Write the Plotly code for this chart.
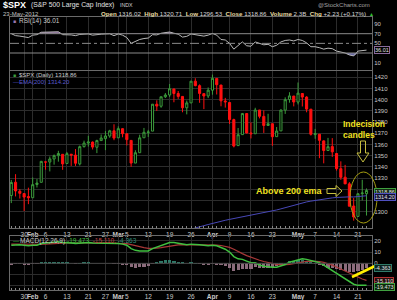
import plotly.graph_objects as go

# ---------------- data ----------------
dates = ["2012-01-25","2012-01-26","2012-01-27","2012-01-30","2012-01-31",
 "2012-02-01","2012-02-02","2012-02-03","2012-02-06","2012-02-07","2012-02-08","2012-02-09","2012-02-10",
 "2012-02-13","2012-02-14","2012-02-15","2012-02-16","2012-02-17","2012-02-21","2012-02-22","2012-02-23",
 "2012-02-24","2012-02-27","2012-02-28","2012-02-29",
 "2012-03-01","2012-03-02","2012-03-05","2012-03-06","2012-03-07","2012-03-08","2012-03-09","2012-03-12",
 "2012-03-13","2012-03-14","2012-03-15","2012-03-16","2012-03-19","2012-03-20","2012-03-21","2012-03-22",
 "2012-03-23","2012-03-26","2012-03-27","2012-03-28","2012-03-29","2012-03-30",
 "2012-04-02","2012-04-03","2012-04-04","2012-04-05","2012-04-09","2012-04-10","2012-04-11","2012-04-12",
 "2012-04-13","2012-04-16","2012-04-17","2012-04-18","2012-04-19","2012-04-20","2012-04-23","2012-04-24",
 "2012-04-25","2012-04-26","2012-04-27","2012-04-30",
 "2012-05-01","2012-05-02","2012-05-03","2012-05-04","2012-05-07","2012-05-08","2012-05-09","2012-05-10",
 "2012-05-11","2012-05-14","2012-05-15","2012-05-16","2012-05-17","2012-05-18","2012-05-21","2012-05-22",
 "2012-05-23"]

opens = [1314.40,1326.28,1318.25,1316.16,1313.53,1312.45,1324.24,1326.21,1344.32,1344.33,1347.04,1349.97,1351.21,
 1343.06,1351.30,1350.52,1342.61,1358.06,1361.22,1362.11,1357.53,1363.46,1365.20,1367.56,1372.20,
 1365.90,1374.09,1369.59,1363.63,1343.39,1352.65,1365.97,1370.78,1371.92,1395.95,1394.17,1402.55,
 1404.17,1409.59,1405.52,1402.89,1392.78,1397.11,1416.55,1412.52,1405.39,1403.31,
 1408.47,1418.98,1413.09,1398.79,1397.45,1382.18,1358.98,1368.77,1387.61,1370.27,1369.57,1390.78,
 1385.08,1376.96,1378.53,1366.97,1372.11,1390.64,1400.19,1403.26,
 1397.86,1405.50,1402.32,1391.51,1368.79,1369.16,1363.20,1354.58,1358.11,1351.93,1338.36,1330.78,
 1324.82,1305.05,1295.73,1316.09,1316.02]
highs = [1328.30,1333.47,1320.06,1316.16,1321.41,1330.52,1329.19,1345.34,1344.36,1349.24,1351.00,1354.32,1351.21,
 1353.35,1351.30,1355.87,1359.02,1363.40,1367.76,1362.70,1364.24,1368.92,1371.94,1373.09,1378.04,
 1376.17,1374.53,1369.59,1363.63,1354.85,1368.72,1374.76,1373.04,1396.13,1399.42,1402.63,1405.88,
 1414.00,1409.59,1407.75,1402.89,1399.18,1416.58,1419.15,1413.65,1405.39,1410.89,
 1422.38,1419.00,1413.09,1401.60,1397.45,1383.01,1374.71,1388.13,1387.61,1379.66,1392.76,1390.78,
 1390.46,1387.40,1378.53,1375.57,1391.37,1402.09,1406.64,1403.26,
 1415.32,1405.50,1403.07,1391.51,1373.91,1369.16,1363.73,1365.88,1365.66,1351.93,1344.94,1341.78,
 1326.36,1312.24,1316.39,1328.49,1320.71]
lows = [1307.65,1313.60,1311.72,1300.49,1306.69,1312.45,1321.57,1326.21,1337.52,1335.92,1341.95,1344.63,1337.35,
 1343.06,1340.83,1340.80,1341.22,1357.24,1358.11,1355.53,1352.28,1363.46,1354.92,1365.97,1363.81,
 1365.90,1366.42,1359.13,1340.03,1343.39,1352.65,1365.97,1366.69,1371.92,1389.97,1392.78,1401.47,
 1402.43,1397.68,1400.64,1388.73,1386.87,1397.11,1411.95,1397.20,1391.56,1401.42,
 1404.46,1404.62,1394.09,1392.92,1378.24,1357.38,1358.98,1368.77,1369.85,1365.38,1369.57,1383.29,
 1370.30,1376.96,1358.79,1366.82,1372.11,1387.28,1397.31,1394.00,
 1395.73,1393.92,1388.71,1367.96,1365.07,1347.75,1343.13,1354.58,1348.89,1336.61,1328.41,1324.79,
 1304.86,1291.98,1295.73,1310.04,1296.53]
closes = [1326.06,1318.43,1316.33,1313.01,1312.41,1324.09,1325.54,1344.90,1344.33,1347.05,1349.96,1351.95,1342.64,
 1351.77,1350.50,1343.23,1358.04,1361.23,1362.21,1357.66,1363.46,1365.74,1367.59,1372.18,1365.68,
 1374.09,1369.63,1364.33,1343.36,1352.63,1365.91,1370.87,1371.09,1395.95,1394.28,1402.60,1404.17,
 1409.75,1405.52,1402.89,1392.78,1397.11,1416.51,1412.52,1405.54,1403.28,1408.47,
 1419.04,1413.38,1398.96,1398.08,1382.20,1358.59,1368.71,1387.57,1370.26,1369.57,1390.78,1385.14,
 1376.92,1378.53,1366.94,1371.97,1390.69,1399.98,1403.36,1397.91,
 1405.82,1402.31,1391.57,1369.10,1369.58,1363.72,1354.58,1357.99,1353.39,1338.35,1330.66,1324.80,
 1304.86,1295.22,1315.99,1316.63,1318.86]

ema200 = [None]*40 + [1282.3,1283.2,1284.2,1285.4,1286.5,1287.5,1288.5,1289.6,1290.6,1291.5,1292.3,
 1293.1,1293.8,1294.6,1295.4,1296.1,1296.8,1297.6,1298.4,1299.2,1300.0,1300.7,1301.5,1302.5,1303.6,
 1304.7,1305.7,1306.8,1307.8,1308.7,1309.4,1310.1,1310.7,1311.3,1311.8,1312.3,1312.7,1313.0,1313.2,
 1313.2,1313.1,1313.5,1313.9,1314.2]

rsi = [70,66,65,63,62,67,68,73,73,74,74.5,74,68,68,67.5,66,68.5,69,69.5,67,68.5,69,69.5,69.8,66,
 69.5,67,62,50,54,58,60,61,68,67.5,71,72,73.5,71,69,63,64.5,69.5,68,66,65,67,
 70.5,67,58,57,50,38,45,53,45,44,53,50,47,48,43,46,53,56,57,55,
 58,56,51,43,43,41,38,40,39,34,32,30,26,24,34,35,36.01]

macd = [16,16.5,16.5,16,15.5,16,16,17.5,18,18.5,19,19,18.5,18.5,18,17.5,18,18.5,18.5,18,18,18,18,18,17.5,
 17.5,17,16,13,11.5,11,11,11,13,14.5,16,17.5,18.5,18.5,18,17,16.5,17,17,16.5,16,15.5,
 16,15.5,14,12.5,10,6,4,3.5,2,0.5,0.5,-1.5,-2.5,-3.3,-3.5,-3.5,-2.5,-1,1,2,
 3.5,4,3.5,2.5,1.5,0.5,-1.5,-4,-6,-8.5,-11,-13.5,-16,-18.5,-19.5,-19.8,-19.473]
signal = [17,17,17,16.8,16.6,16.5,16.5,16.7,16.9,17.2,17.5,17.8,18,18,18,17.9,17.9,18,18,18,18,18,18,18,18,
 17.9,17.7,17.4,16.5,15.5,14.6,13.9,13.3,13.2,13.4,13.9,14.6,15.4,16,16.4,16.5,16.5,16.6,16.7,16.7,16.6,16.4,
 16.3,16.2,15.8,15.1,14.1,12.5,10.3,8.6,6.8,5.2,3.9,2.7,1.6,0.7,-0.2,-0.9,-1.3,-1.3,-0.9,-0.3,
 0.5,1.2,1.7,1.9,1.8,1.5,0.8,-0.2,-1.6,-3.2,-5,-6.8,-8.6,-10.6,-12.4,-13.9,-15.11]
hist = [-1,-0.5,-0.5,-0.8,-1.1,-0.5,-0.5,0.8,1.1,1.3,1.5,1.2,0.5,0.5,0,-0.4,0.1,0.5,0.5,0,0,0,0,0,-0.5,
 -0.4,-0.7,-1.4,-3.5,-4,-3.6,-2.9,-2.3,-0.2,1.1,2.1,2.9,3.1,2.5,1.6,0.5,0,0.4,0.3,-0.2,-0.6,-0.9,
 -0.3,-0.7,-1.8,-2.6,-4.1,-6.5,-6.3,-5.1,-4.8,-4.7,-3.4,-4.2,-4.1,-4,-3.3,-2.6,-1.2,0.3,1.9,2.3,
 3,2.8,1.8,0.6,-0.3,-1,-2.3,-3.8,-4.4,-5.3,-6,-6.7,-7.4,-7.9,-7.1,-5.9,-4.363]

tick_dates = ["2012-01-30","2012-02-01","2012-02-06","2012-02-13","2012-02-21","2012-02-27","2012-03-01",
 "2012-03-05","2012-03-12","2012-03-19","2012-03-26","2012-04-02","2012-04-09","2012-04-16","2012-04-23",
 "2012-05-01","2012-05-07","2012-05-14","2012-05-21"]
tick_text = ["30","<b>Feb</b>","6","13","21","27","<b>Mar</b>","5","12","19","26","<b>Apr</b>","9","16","23",
 "<b>May</b>","7","14","21"]
price_ticks = [1300,1310,1320,1330,1340,1350,1360,1370,1380,1390,1400,1410,1420]
price_text = ["1300","","","1330","1340","1350","1360","1370","1380","1390","1400","1410","1420"]
rsi_ticks = [10,30,50,70,90]
rsi_text = ["10","","50","70","90"]
macd_ticks = [-20,-10,0,10,20]
macd_text = ["","","0","10","20"]

# ---------------- geometry helpers ----------------
W, H = 397, 300
ML, MR, MT, MB = 10, 25, 0, 10
PW, PH = W - ML - MR, H - MT - MB
def px(x):
    return (x - ML) / PW
def py(y):
    return (PH - (y - MT)) / PH
def path(pts):
    return "M " + " L ".join(f"{px(a):.5f},{py(b):.5f}" for a, b in pts) + " Z"

x = list(range(len(dates)))
tickvals = [dates.index(d) for d in tick_dates]
FONT = "Liberation Sans, Arial, sans-serif"
GREEN = "#3c9c3c"
RED = "#ff1010"
GRID = "#2c2c2c"
BORDER = "#6a6a6a"
TXT = "#c8c8c8"

fig = go.Figure()

# ---------------- RSI panel ----------------
fig.add_trace(go.Scatter(x=x, y=[70]*len(x), mode="lines", line=dict(width=0), xaxis="x", yaxis="y", hoverinfo="skip"))
fig.add_trace(go.Scatter(x=x, y=[max(v, 70) for v in rsi], mode="lines", line=dict(width=0),
                         fill="tonexty", fillcolor="rgba(150,110,170,0.85)", xaxis="x", yaxis="y", hoverinfo="skip"))
fig.add_trace(go.Scatter(x=x, y=[30]*len(x), mode="lines", line=dict(width=0), xaxis="x", yaxis="y", hoverinfo="skip"))
fig.add_trace(go.Scatter(x=x, y=[min(v, 30) for v in rsi], mode="lines", line=dict(width=0),
                         fill="tonexty", fillcolor="rgba(120,120,190,0.85)", xaxis="x", yaxis="y", hoverinfo="skip"))
fig.add_trace(go.Scatter(x=x, y=rsi, mode="lines", line=dict(color="#b8b8b8", width=1), xaxis="x", yaxis="y"))

# ---------------- price panel ----------------
g_idx = [i for i in x if i == 0 or closes[i] >= closes[i-1]]
r_idx = [i for i in x if i > 0 and closes[i] < closes[i-1]]
for idx, col in ((g_idx, GREEN), (r_idx, RED)):
    fig.add_trace(go.Candlestick(
        x=[x[i] for i in idx], open=[opens[i] for i in idx], high=[highs[i] for i in idx],
        low=[lows[i] for i in idx], close=[closes[i] for i in idx],
        increasing=dict(line=dict(color=col, width=1), fillcolor="black"),
        decreasing=dict(line=dict(color=col, width=1), fillcolor=col),
        xaxis="x2", yaxis="y2", whiskerwidth=0))
fig.add_trace(go.Scatter(x=x, y=ema200, mode="lines", line=dict(color="#4848b8", width=1),
                         xaxis="x2", yaxis="y2", connectgaps=False))

# ---------------- MACD panel ----------------
fig.add_trace(go.Bar(x=x, y=hist, marker=dict(color=["#2f7a68" if v >= 0 else "#8c6c7c" for v in hist], line=dict(width=0)),
                     width=0.75, xaxis="x3", yaxis="y3"))
fig.add_trace(go.Scatter(x=x, y=signal, mode="lines", line=dict(color="#a83838", width=1.2), xaxis="x3", yaxis="y3"))
fig.add_trace(go.Scatter(x=x, y=macd, mode="lines", line=dict(color="#40c040", width=1.5), xaxis="x3", yaxis="y3"))

xr = [-0.3, 84.28]
common_x = dict(range=xr, tickmode="array", tickvals=tickvals, ticktext=tick_text, showgrid=True, tickangle=0,
                gridcolor=GRID, gridwidth=1, zeroline=False, showline=True, linecolor=BORDER, mirror=True,
                ticks="", tickfont=dict(family=FONT, size=6.5, color=TXT), fixedrange=True)
common_y = dict(side="right", showline=True, linecolor=BORDER, mirror=True, zeroline=False, ticks="",
                tickfont=dict(family=FONT, size=6, color=TXT), gridcolor=GRID, gridwidth=1, fixedrange=True,
                tickmode="array")

fig.update_layout(
    width=W, height=H, margin=dict(l=ML, r=MR, t=MT, b=MB),
    paper_bgcolor="black", plot_bgcolor="black", showlegend=False, hovermode=False,
    bargap=0, barmode="overlay",
    xaxis=dict(common_x, anchor="y", showticklabels=False),
    xaxis2=dict(common_x, anchor="y2", matches="x", rangeslider=dict(visible=False),
                minor=dict(tickvals=x, ticks="inside", ticklen=2, tickcolor="#888", showgrid=False)),
    xaxis3=dict(common_x, anchor="y3", matches="x",
                minor=dict(tickvals=x, ticks="inside", ticklen=2, tickcolor="#888", showgrid=False)),
    yaxis=dict(common_y, domain=[py(70), py(17)], range=[-5.2, 104.6], tickvals=rsi_ticks, ticktext=rsi_text,
               showgrid=False, anchor="x"),
    yaxis2=dict(common_y, domain=[py(228), py(71)], range=[1285.4, 1425.6], tickvals=price_ticks, ticktext=price_text,
                showgrid=True, anchor="x2"),
    yaxis3=dict(common_y, domain=[py(290), py(236)], range=[-23.6, 24.2], tickvals=macd_ticks, ticktext=macd_text,
                showgrid=True, anchor="x3"),
)

# RSI reference lines
fig.add_shape(type="line", xref="x", yref="y", x0=xr[0], x1=xr[1], y0=70, y1=70, line=dict(color="#8a8a8a", width=1))
fig.add_shape(type="line", xref="x", yref="y", x0=xr[0], x1=xr[1], y0=30, y1=30, line=dict(color="#8a8a8a", width=1))
fig.add_shape(type="line", xref="x", yref="y", x0=xr[0], x1=xr[1], y0=50, y1=50, line=dict(color="#8a8a8a", width=1, dash="dashdot"))
fig.add_shape(type="line", xref="x3", yref="y3", x0=xr[0], x1=xr[1], y0=0, y1=0, line=dict(color="#444", width=1))

# ---------------- annotations ----------------
def ann(xp, yp, text, size=6.5, color=TXT, anchor="left", **kw):
    fig.add_annotation(x=px(xp), y=py(yp), xref="paper", yref="paper", text=text, showarrow=False,
                       xanchor=anchor, yanchor="middle", font=dict(family=FONT, size=size, color=color), **kw)

ann(1, 5, "<b>$SPX</b>", size=9, color="white")
ann(29, 5.5, "(S&P 500 Large Cap Index)", size=6.8, color="#e0e0e0")
ann(118, 5.5, "INDX", size=5.3, color="#d0d0d0")
ann(372, 5, "@StockCharts.com", size=6, color="#a0a0a0", anchor="right")
ann(1, 13.5, "23-May-2012", size=6, color="#c0c0c0")
lab = "color:#e8dca0"
ann(99, 13.5, f"<span style='{lab}'><b>Open</b></span> 1316.02  <span style='{lab}'><b>High</b></span> 1320.71  "
              f"<span style='{lab}'><b>Low</b></span> 1296.53  <span style='{lab}'><b>Close</b></span> 1318.86  "
              f"<span style='{lab}'><b>Volume</b></span> 2.3B  <span style='{lab}'><b>Chg</b></span> +2.23 (+0.17%)",
    size=6.2, color="#d8d8d8")
ann(367, 14, "▲", size=5, color="#30c030")

ann(11, 21, "■", size=5, color="#9a78b0")
ann(16.5, 21, "RSI(14) 36.01", size=6.5)
ann(11, 75, "■", size=5, color=GREEN)
ann(17, 75, "$SPX (Daily) 1318.86", size=6)
ann(10.5, 82, "—", size=6, color="#5050c8")
ann(16.5, 82, "EMA(200) 1314.20", size=6, color="#5a5ad0")
ann(10.5, 240.5, "—", size=6, color="#40c040")
ann(17.5, 240.5, "MACD(12,26,9) <span style='color:#40c040'>-19.473,</span> "
                 "<span style='color:#c04040'>-15.110,</span> <span style='color:#2f8a78'>-4.363</span>", size=6.5)

# value boxes on right
def box(yp, text, border, bg="black", color="#e0e0e0"):
    ann(373.5, yp, text, size=5.5, color=color, bordercolor=border, borderwidth=1, borderpad=0, bgcolor=bg)
box(50.5, "36.01", "#8a6a9a")
box(191.5, "1318.86", "#40a040", bg="#102a10")
box(197, "1314.20", "#5050c0", bg="#101030")
box(267.5, "-4.363", "#2f7a68", bg="#0c2420")
box(281, "-15.110", "#b03030", bg="#2a0c0c")
box(287, "-19.473", "#40a040", bg="#0c2a0c")

# callouts
ann(341, 124, "<b>Indecision</b>", size=8.5, color="#f0e020")
ann(341, 135, "<b>candles</b>", size=8.5, color="#f0e020")
ann(254, 191, "<b>Above 200 ema</b>", size=9, color="#f0e020")
fig.add_shape(type="path", xref="paper", yref="paper", line=dict(color="#c8c040", width=1),
              path=path([(360.5, 141), (365.5, 141), (365.5, 153), (369, 153), (363, 162), (357, 153), (360.5, 153)]))
fig.add_shape(type="path", xref="paper", yref="paper", line=dict(color="#c8c040", width=1),
              path=path([(327, 188.5), (336, 188.5), (336, 185.5), (342, 191), (336, 196.5), (336, 193.5), (327, 193.5)]))
fig.add_shape(type="circle", xref="paper", yref="paper", x0=px(350), x1=px(377), y0=py(223), y1=py(172),
              line=dict(color="#a8a010", width=1))
fig.add_shape(type="line", xref="paper", yref="paper", x0=px(352), y0=py(277), x1=px(375), y1=py(266),
              line=dict(color="#ffee00", width=2.5))

fig.write_html("out.html")
